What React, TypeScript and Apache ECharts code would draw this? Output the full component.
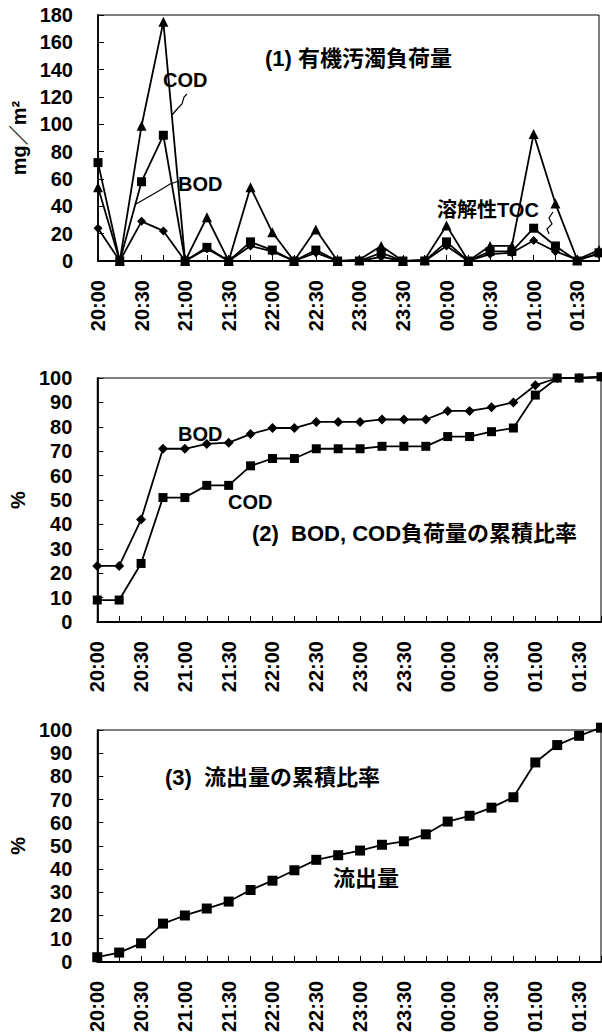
import React, { useEffect, useRef } from 'react';
import * as echarts from 'echarts';

const times = ['20:00','20:15','20:30','20:45','21:00','21:15','21:30','21:45','22:00','22:15','22:30','22:45','23:00','23:15','23:30','23:45','00:00','00:15','00:30','00:45','01:00','01:15','01:30','01:45'];

// Panel 1: organic pollution load (mg/m2)
const codLoad = [54, 0, 99, 175, 0, 32, 0, 54, 21, 0, 23, 0, 1, 11, 0, 1, 26, 0, 11, 11, 93, 42, 1, 8];
const bodLoad = [72, 0, 58, 92, 0, 10, 0, 14, 8, 0, 8, 0, 0, 6, 0, 0, 14, 0, 7, 7, 24, 11, 0, 6];
const tocLoad = [24, 0, 29, 22, 0, 9, 0, 11, 7, 0, 6, 0, 0, 3, 0, 0, 11, 0, 5, 6, 15, 7, 1, 5];

// Panel 2: cumulative ratio of BOD, COD load (%)
const bodCum = [23, 23, 42, 71, 71, 73, 73.5, 77, 79.5, 79.5, 82, 82, 82, 83, 83, 83, 86.5, 86.5, 88, 90, 97, 100, 100, 100.5];
const codCum = [9, 9, 24, 51, 51, 56, 56, 64, 67, 67, 71, 71, 71, 72, 72, 72, 76, 76, 78, 79.5, 93, 100, 100, 100.5];

// Panel 3: cumulative ratio of outflow (%)
const flowCum = [2, 4, 8, 16.5, 20, 23, 26, 31, 35, 39.5, 44, 46, 48, 50.5, 52, 55, 60.5, 63, 66.5, 71, 86, 93.5, 97.5, 101];

const FONT = '"Liberation Sans", Arial, "Noto Sans CJK JP", sans-serif';

export default function App() {
  const ref = useRef<HTMLDivElement>(null);
  useEffect(() => {
    if (!ref.current) return;
    const chart = echarts.init(ref.current, undefined, { renderer: 'svg' });
    const grids = [
      { left: 98, top: 15, width: 501, height: 246 },
      { left: 96, top: 378, width: 505, height: 244 },
      { left: 90, top: 730, width: 511, height: 232 },
    ].map((g) => ({ ...g, show: true, borderColor: '#000', borderWidth: 1, containLabel: false }));

    const labelStyle = { color: '#000', fontSize: 20, fontWeight: 'bold', fontFamily: FONT };
    const xAxes = [0, 1, 2].map((i) => ({
      type: 'category',
      gridIndex: i,
      data: times,
      boundaryGap: false,
      axisLine: { lineStyle: { color: '#000', width: 1.8 } },
      axisTick: { inside: true, length: 6, interval: 0, lineStyle: { color: '#000' } },
      axisLabel: { ...labelStyle, rotate: 90, interval: 1, margin: 19 },
      splitLine: { show: false },
    }));
    const yNames = ['mg／m²', '%', '%'];
    const yMax = [180, 100, 100];
    const yInt = [20, 10, 10];
    const yAxes = [0, 1, 2].map((i) => ({
      type: 'value',
      gridIndex: i,
      min: 0,
      max: yMax[i],
      interval: yInt[i],
      name: yNames[i],
      nameLocation: 'middle',
      nameGap: i === 0 ? 66 : 68,
      nameTextStyle: { color: '#000', fontSize: 20, fontWeight: 'bold', fontFamily: FONT },
      axisLine: { show: true, lineStyle: { color: '#000', width: 1.8 } },
      axisTick: { show: true, inside: true, length: 6, lineStyle: { color: '#000' } },
      axisLabel: { ...labelStyle, margin: 25 },
      splitLine: { show: false },
    }));

    const mk = (data: number[], idx: number, symbol: string, size: number) => ({
      type: 'line',
      xAxisIndex: idx,
      yAxisIndex: idx,
      data,
      symbol,
      symbolSize: size,
      clip: false,
      lineStyle: { color: '#000', width: 1.8 },
      itemStyle: { color: '#000' },
    });

    const txt = (x: number, y: number, text: string, size = 20) => ({
      type: 'text',
      x,
      y,
      style: { text, font: `bold ${size}px ${FONT}`, fill: '#000', textVerticalAlign: 'middle' },
      z: 100,
    });

    chart.setOption({
      animation: false,
      grid: grids,
      xAxis: xAxes,
      yAxis: yAxes,
      series: [
        mk(codLoad, 0, 'triangle', 10),
        mk(bodLoad, 0, 'rect', 9),
        mk(tocLoad, 0, 'diamond', 9),
        mk(bodCum, 1, 'diamond', 10),
        mk(codCum, 1, 'rect', 9),
        mk(flowCum, 2, 'rect', 10),
      ],
      graphic: [
        txt(265, 58, '(1) 有機汚濁負荷量', 22),
        txt(163, 80, 'COD'),
        txt(178, 184, 'BOD'),
        txt(437, 210, '溶解性TOC'),
        { type: 'polyline', shape: { points: [[187, 94], [184, 97], [182, 104], [178, 108], [172, 115]] }, style: { stroke: '#000', lineWidth: 1.2, fill: null } },
        { type: 'polyline', shape: { points: [[179, 181], [170, 184], [162, 189], [150, 196], [136, 204]] }, style: { stroke: '#000', lineWidth: 1.2, fill: null } },
        { type: 'polyline', shape: { points: [[553, 212], [549, 218], [552, 224], [547, 229], [549, 234]] }, style: { stroke: '#000', lineWidth: 1.2, fill: null } },
        txt(178, 434, 'BOD'),
        txt(228, 502, 'COD'),
        txt(252, 533, '(2)  BOD, COD負荷量の累積比率', 22),
        txt(165, 777, '(3)  流出量の累積比率', 22),
        txt(333, 878, '流出量', 22),
      ],
    });
    return () => chart.dispose();
  }, []);
  return <div ref={ref} style={{ position: 'absolute', left: 0, top: 0, width: 602, height: 1035, background: '#fff' }} />;
}
